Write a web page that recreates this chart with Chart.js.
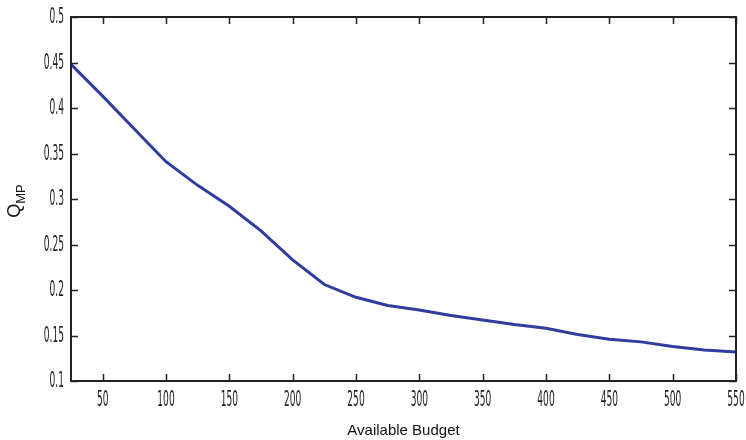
<!DOCTYPE html>
<html>
<head>
<meta charset="utf-8">
<script src="https://cdn.jsdelivr.net/npm/chart.js@4"></script>
<style>
  html, body { margin: 0; padding: 0; background: #fff; }
  #wrap { width: 746px; height: 440px; }
</style>
</head>
<body>
<div id="wrap"><canvas id="chart"></canvas></div>
<script>
var budgets = [25, 50, 75, 100, 125, 150, 175, 200, 225, 250, 275, 300, 325, 350, 375, 400, 425, 450, 475, 500, 525, 550];
var qmp = [0.448, 0.413, 0.377, 0.341, 0.315, 0.292, 0.265, 0.233, 0.206, 0.192, 0.183, 0.178, 0.172, 0.167, 0.162, 0.158, 0.151, 0.146, 0.143, 0.138, 0.134, 0.132];
var X_TICKS = [50, 100, 150, 200, 250, 300, 350, 400, 450, 500, 550];
var Y_TICKS = [0.1, 0.15, 0.2, 0.25, 0.3, 0.35, 0.4, 0.45, 0.5];

var LINE_COLOR = '#2f3d9f';
var TICK_FONT = "21px 'DejaVu Sans Condensed', 'DejaVu Sans', sans-serif";
var SQUEEZE = 0.48;   // the tick font in the original is very narrow

function fmt (v) { return String(+v.toFixed(2)) }

// narrow tick text drawn at the scale's own tick positions
function drawNarrow (ctx, text, x, y, align) {
  ctx.save()
  ctx.translate(x, y)
  ctx.scale(SQUEEZE, 1)
  ctx.textAlign = align
  ctx.textBaseline = 'middle'
  ctx.fillText(text, 0, 0)
  ctx.restore()
}

// box round the plot, with short ticks pointing inwards on all four sides
var framePlugin = {
  id: 'frame',
  afterDraw (chart) {
    const ctx = chart.ctx
    const a = chart.chartArea
    const xs = chart.scales.x
    const ys = chart.scales.y
    const len = 7
    ctx.save()
    ctx.strokeStyle = '#222'
    ctx.lineWidth = 2
    ctx.strokeRect(a.left, a.top, a.right - a.left, a.bottom - a.top)
    ctx.lineWidth = 1.5
    ctx.beginPath()
    xs.ticks.forEach(t => {
      const px = Math.round(xs.getPixelForValue(t.value)) + 0.5
      ctx.moveTo(px, a.bottom); ctx.lineTo(px, a.bottom - len)
      ctx.moveTo(px, a.top); ctx.lineTo(px, a.top + len)
    })
    ys.ticks.forEach(t => {
      const py = Math.round(ys.getPixelForValue(t.value)) + 0.5
      ctx.moveTo(a.left, py); ctx.lineTo(a.left + len, py)
      ctx.moveTo(a.right, py); ctx.lineTo(a.right - len, py)
    })
    ctx.stroke()

    ctx.fillStyle = '#222'
    ctx.font = TICK_FONT
    xs.ticks.forEach(t => {
      drawNarrow(ctx, fmt(t.value), xs.getPixelForValue(t.value), a.bottom + 20, 'center')
    })
    ys.ticks.forEach(t => {
      drawNarrow(ctx, fmt(t.value), a.left - 7, ys.getPixelForValue(t.value) + 1, 'right')
    })

    // y title: Q with subscript MP
    ctx.translate(20, (a.top + a.bottom) / 2 + 2)
    ctx.rotate(-Math.PI / 2)
    ctx.fillStyle = '#111'
    ctx.textBaseline = 'alphabetic'
    ctx.textAlign = 'left'
    const big = "18px 'Liberation Sans', Arial, sans-serif"
    const small = "13px 'Liberation Sans', Arial, sans-serif"
    ctx.font = big
    const qw = ctx.measureText('Q').width
    ctx.font = small
    const sw = ctx.measureText('MP').width
    const start = -(qw + sw) / 2
    ctx.font = big
    ctx.fillText('Q', start, 0)
    ctx.font = small
    ctx.fillText('MP', start + qw, 5)
    ctx.restore()
  }
}

new Chart(document.getElementById('chart').getContext('2d'), {
  type: 'line',
  data: {
    datasets: [{
      data: budgets.map((b, i) => ({ x: b, y: qmp[i] })),
      borderColor: LINE_COLOR,
      borderWidth: 3,
      pointRadius: 0,
      tension: 0,
      fill: false
    }]
  },
  options: {
    responsive: true,
    maintainAspectRatio: false,
    animation: false,
    layout: { padding: { left: 0, right: 10, top: 17, bottom: 0 } },
    plugins: {
      legend: { display: false },
      tooltip: { enabled: false }
    },
    scales: {
      x: {
        type: 'linear',
        min: 25,
        max: 550,
        grid: { display: false, drawTicks: false },
        border: { display: false },
        afterBuildTicks (scale) {
          scale.ticks = X_TICKS.map(v => ({ value: v }))
        },
        ticks: { display: false },
        title: {
          display: true,
          text: 'Available Budget',
          color: '#111',
          padding: { top: 0, bottom: 0 },
          font: { family: "'Liberation Sans', Arial, sans-serif", size: 15 }
        },
        afterFit (scale) { scale.height = 59 }
      },
      y: {
        type: 'linear',
        min: 0.1,
        max: 0.5,
        grid: { display: false, drawTicks: false },
        border: { display: false },
        afterBuildTicks (scale) {
          scale.ticks = Y_TICKS.map(v => ({ value: v }))
        },
        ticks: { display: false },
        afterFit (scale) { scale.width = 71 }
      }
    }
  },
  plugins: [framePlugin]
});
</script>
</body>
</html>
